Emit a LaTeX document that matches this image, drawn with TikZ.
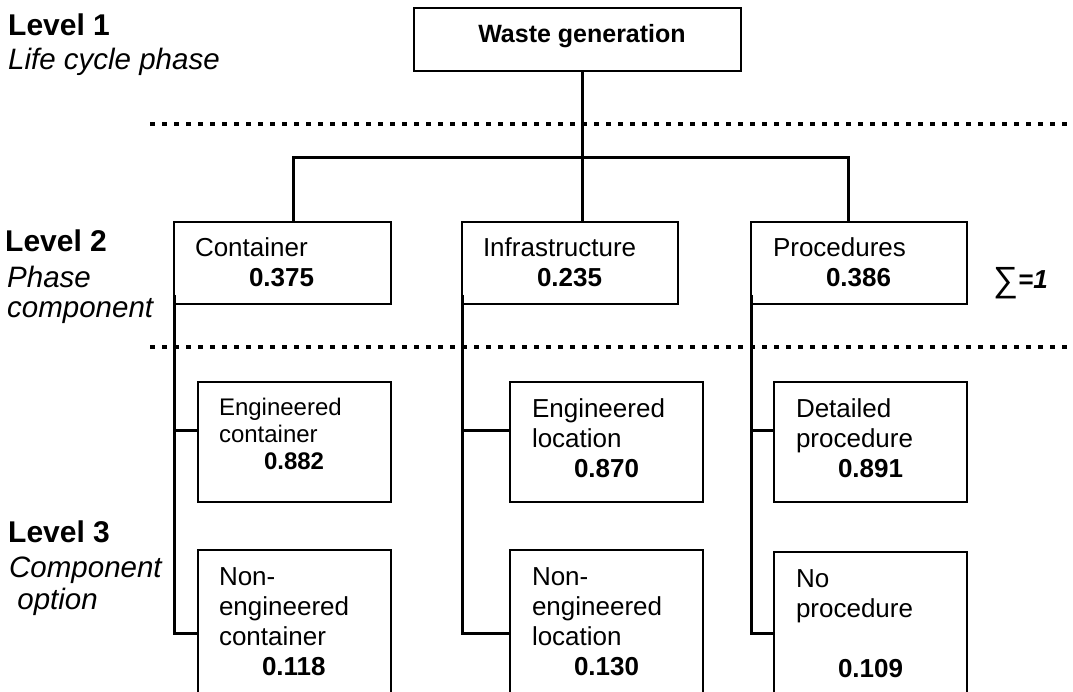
\documentclass[tikz,border=0pt]{standalone}
\usepackage{fontspec}
\setmainfont{Liberation Sans}
\begin{document}
% box body: width, height, first baseline from top, font size, line skip, text
\newcommand\cellbody[6]{%
  \parbox[c][#2][t]{#1}{\fontsize{#4}{#5}\selectfont
    \vspace*{\dimexpr#3-#5\relax}\prevdepth=0pt\relax
    #6\par}}
\begin{tikzpicture}[x=1pt,y=-1pt,
  cell/.style={draw=black, line width=1.4pt, inner sep=0pt, outer sep=0pt,
    anchor=north west, fill=white},
  conn/.style={line width=3pt},
  sep/.style={line width=4.8pt, dash pattern=on 5pt off 7pt},
  lvl/.style={anchor=base west, inner sep=0pt,
    font=\fontsize{30pt}{34pt}\selectfont\bfseries},
  lvlsub/.style={anchor=base west, inner sep=0pt,
    font=\fontsize{29.5pt}{34pt}\selectfont\itshape}]
\useasboundingbox (0,0) rectangle (1073,692);
\clip (0,0) rectangle (1073,692);

% level captions
\node[lvl] (l1) at (8,36) {Level 1};
\node[lvlsub] (l1s) at (8,70) {Life cycle phase};
\node[lvl] (l2) at (5,252) {Level 2};
\node[lvlsub] (l2s) at (7,288) {Phase};
\node[lvlsub] (l2t) at (7,318) {component};
\node[lvl] (l3) at (8,542) {Level 3};
\node[lvlsub] (l3s) at (9,577) {Component};
\node[lvlsub] (l3t) at (9,609) {\ option};

% dotted separators between levels
\coordinate (s1a) at (150,124);
\coordinate (s1b) at (1068,124);
\coordinate (s2a) at (150,347);
\coordinate (s2b) at (1068,347);
\draw[sep] (s1a) -- (s1b);
\draw[sep] (s2a) -- (s2b);

% level 1
\node[cell] (top) at (414,8)
  {\cellbody{327pt}{63pt}{35pt}{25pt}{30pt}{\centering\hspace*{9pt}\textbf{Waste generation}}};

% level 2
\node[cell] (cont) at (174,222)
  {\cellbody{217pt}{82pt}{35pt}{26pt}{30pt}{\hspace*{21pt}Container\\\hspace*{75pt}\textbf{0.375}}};
\node[cell] (infra) at (462,222)
  {\cellbody{216pt}{82pt}{35pt}{26pt}{30pt}{\hspace*{21pt}Infrastructure\\\hspace*{75pt}\textbf{0.235}}};
\node[cell] (proc) at (751,222)
  {\cellbody{216pt}{82pt}{35pt}{26pt}{30pt}{\hspace*{22pt}Procedures\\\hspace*{75pt}\textbf{0.386}}};
\node[anchor=base west, inner sep=0pt, font=\fontsize{26pt}{30pt}\selectfont] (sum) at (993,289)
  {\raisebox{-3pt}{\fontsize{35pt}{35pt}\selectfont ∑}\textbf{\textit{=1}}};

% level 3
\node[cell] (ec) at (198,382)
  {\cellbody{193pt}{120pt}{33pt}{24pt}{27pt}{\hspace*{21pt}Engineered\\\hspace*{21pt}container\\\hspace*{66pt}\textbf{0.882}}};
\node[cell] (nec) at (198,550)
  {\cellbody{193pt}{166pt}{35pt}{26pt}{30.3pt}{\hspace*{21pt}Non-\\\hspace*{21pt}engineered\\\hspace*{21pt}container\\\hspace*{64pt}\textbf{0.118}}};
\node[cell] (el) at (510,382)
  {\cellbody{193pt}{120pt}{35pt}{26pt}{30pt}{\hspace*{22pt}Engineered\\\hspace*{22pt}location\\\hspace*{64pt}\textbf{0.870}}};
\node[cell] (nel) at (510,550)
  {\cellbody{193pt}{166pt}{35pt}{26pt}{30.3pt}{\hspace*{22pt}Non-\\\hspace*{22pt}engineered\\\hspace*{22pt}location\\\hspace*{64pt}\textbf{0.130}}};
\node[cell] (dp) at (774,382)
  {\cellbody{193pt}{120pt}{35pt}{26pt}{30pt}{\hspace*{22pt}Detailed\\\hspace*{22pt}procedure\\\hspace*{64pt}\textbf{0.891}}};
\node[cell] (np) at (774,552)
  {\cellbody{193pt}{162pt}{35pt}{26pt}{30pt}{\hspace*{22pt}No\\\hspace*{22pt}procedure\\[30pt]\hspace*{64pt}\textbf{0.109}}};

% tree from level 1 to level 2
\coordinate (hub) at (582,158);
\coordinate (busL) at (293,158);
\coordinate (busR) at (848,158);
\draw[conn] (hub |- top.south) -- (hub |- infra.north);
\draw[conn] (busL |- cont.north) -- (busL) -- (busR) -- (busR |- proc.north);

% branches from level 2 to level 3
\coordinate (ecj) at ([yshift=12pt]ec.west);
\coordinate (elj) at ([yshift=12pt]el.west);
\coordinate (dpj) at ([yshift=12pt]dp.west);
\draw[conn] ([yshift=9pt]cont.south west) |- (nec.west);
\draw[conn] (ecj -| cont.west) -- (ecj);
\draw[conn] ([yshift=9pt]infra.south west) |- (nel.west);
\draw[conn] (elj -| infra.west) -- (elj);
\draw[conn] ([yshift=9pt]proc.south west) |- (np.west);
\draw[conn] (dpj -| proc.west) -- (dpj);
\end{tikzpicture}
\end{document}
